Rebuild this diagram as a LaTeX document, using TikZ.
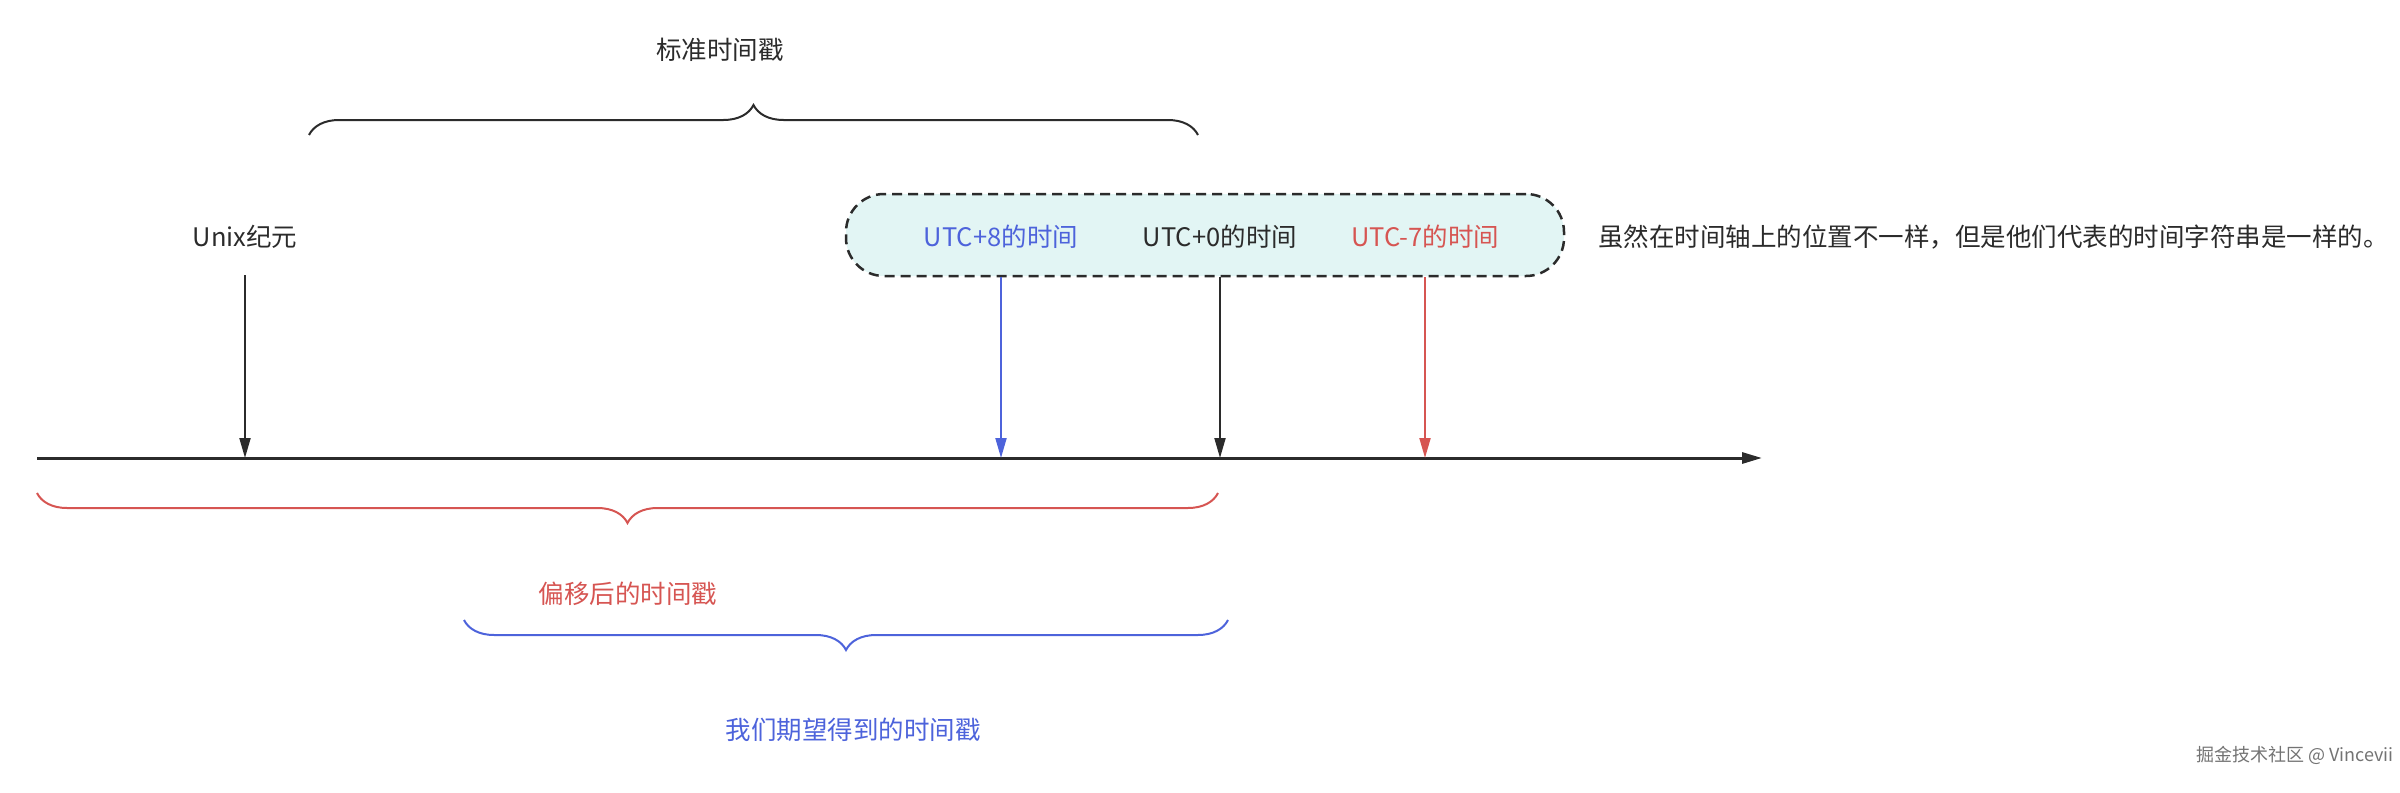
\documentclass[tikz,border=0pt]{standalone}
\usepackage{fontspec}
\setmainfont{Noto Sans CJK SC}
\usetikzlibrary{decorations.pathreplacing,arrows.meta}
\definecolor{cblue}{HTML}{4D63DB}
\definecolor{cred}{HTML}{D65552}
\definecolor{cfill}{HTML}{E2F5F4}
\definecolor{cdark}{HTML}{2B2B2B}
\tikzset{
 lbl/.style={font=\fontsize{25.5pt}{30pt}\selectfont, inner sep=0pt},
 br/.style={decorate, decoration={brace, amplitude=30pt, aspect=0.5}, line width=2pt},
 ar/.style={-{Triangle[length=20pt,width=11pt]}, line width=2pt},
}
\begin{document}
\begin{tikzpicture}[x=1pt,y=-1pt]
\useasboundingbox (0,0) rectangle (2400,792);
% axis
\coordinate (a0) at (37,458);
\coordinate (a1) at (1762,458);
\draw[ar, cdark, line width=3pt] (a0) -- (a1);
% box
\node[draw=cdark, fill=cfill, dashed, dash pattern=on 10pt off 6pt, line width=2.5pt, rounded corners=38pt, minimum width=718pt, minimum height=82pt, inner sep=0pt] (box) at (1205,235) {};
\node[lbl, text=cblue] (u8) at (1001,237) {UTC+8的时间};
\node[lbl, text=cdark] (u0) at (1220,237) {UTC+0的时间};
\node[lbl, text=cred] (u7) at (1425,237) {UTC-7的时间};
\node[lbl, text=cdark, anchor=west] (note) at (1598,237) {虽然在时间轴上的位置不一样，但是他们代表的时间字符串是一样的。};
\node[lbl, text=cdark] (unix) at (245,237) {Unix纪元};
% arrows
\draw[ar, cdark] (unix.south |- 0,275) -- (unix.south |- a0);
\draw[ar, cblue] (u8 |- box.south) -- (u8 |- a0);
\draw[ar, cdark] (u0 |- box.south) -- (u0 |- a0);
\draw[ar, cred] (u7 |- box.south) -- (u7 |- a0);
% top brace
\coordinate (t0) at (309,135);
\coordinate (t1) at (1198,135);
\draw[br, cdark] (t0) -- (t1);
\node[lbl, text=cdark] (std) at (720,50) {标准时间戳};
% red brace
\coordinate (r0) at (37,493);
\coordinate (r1) at (1218,493);
\draw[br, cred] (r1) -- (r0);
\node[lbl, text=cred] (off) at (628,594) {偏移后的时间戳};
% blue brace
\coordinate (b0) at (464,620);
\coordinate (b1) at (1228,620);
\draw[br, cblue] (b1) -- (b0);
\node[lbl, text=cblue] (exp) at (853,730) {我们期望得到的时间戳};
% watermark
\node[font=\fontsize{18pt}{22pt}\selectfont, text=black!55, anchor=east, inner sep=0pt] (wm) at (2394,755) {掘金技术社区 @ Vincevii};
\end{tikzpicture}
\end{document}
